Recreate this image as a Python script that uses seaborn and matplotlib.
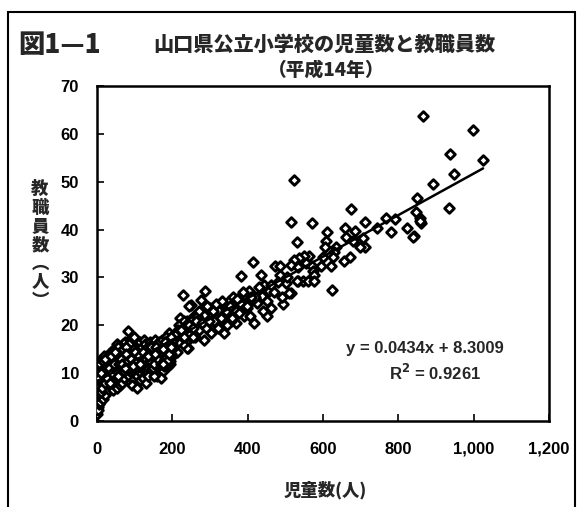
import matplotlib
matplotlib.use("Agg")
import matplotlib.pyplot as plt
import seaborn as sns
import pandas as pd
from matplotlib.patches import Rectangle

# 児童数 (students) and 教職員数 (staff) per school
students = [
    # upper range
    866, 999, 937, 948, 1025, 893, 850, 934, 846, 857, 861, 842,
    522, 675, 570, 712, 515, 659, 610, 684, 768, 790, 744, 781, 823, 840, 857,
    530, 608, 706, 712, 699, 679, 604, 635, 630, 626, 657, 673, 661, 599, 596, 620,
    563, 550, 537, 524, 515, 533, 555, 570, 573, 577, 533, 546, 559, 577, 623, 515,
    # middle range
    415, 383, 472, 486, 435, 486, 531, 229, 286, 275, 250, 335, 457, 495, 461, 426,
    413, 399, 380, 362, 346, 417, 390, 368, 339, 337, 303, 306, 283, 300, 319, 275,
    257, 239, 230, 235, 241, 444, 461, 501, 510, 439, 403,
    243, 82, 181, 146, 221, 217, 190, 239, 181, 146,
    260, 270, 290, 310, 325, 350, 355, 370, 395, 405, 420, 430, 450, 470, 480, 490,
    505, 450, 440, 320, 345, 360, 285, 265, 250, 225, 212, 205, 200,
    210, 215, 225, 230, 235, 228, 245, 250, 255,
    205, 215, 222, 232, 245, 255, 262, 272, 280, 292, 298, 308, 315, 328, 332, 342,
    352, 358, 372, 378, 388, 398, 408,
    # 0-15
    1, 2, 3, 2, 4, 3, 5, 6, 4, 7, 8, 5, 9, 6, 10, 8, 11, 12, 13, 7, 14, 10, 15, 12,
    3, 2, 1, 6, 9, 11,
    # 15-40
    16, 18, 20, 22, 24, 25, 26, 28, 30, 30, 32, 34, 35, 36, 38, 40, 17, 19, 21, 27,
    33, 37, 39, 23, 29,
    # 40-80
    42, 44, 45, 46, 48, 50, 50, 52, 54, 55, 56, 58, 60, 62, 63, 65, 66, 68, 70, 72,
    72, 74, 76, 78, 80, 43, 47, 53, 57, 61, 67, 71, 75, 79, 41,
    # 80-140
    82, 84, 85, 86, 88, 90, 90, 92, 94, 95, 96, 98, 100, 102, 104, 105, 107, 108,
    110, 112, 114, 115, 117, 118, 120, 122, 124, 125, 127, 128, 130, 132, 133, 135,
    137, 138, 140, 87, 93, 99, 106, 113, 121, 129, 136,
    # 140-200
    142, 144, 146, 148, 150, 152, 154, 155, 157, 158, 160, 162, 164, 165, 167, 168,
    170, 172, 174, 175, 177, 178, 180, 182, 184, 185, 187, 190, 192, 194, 196, 198,
    200, 203, 206, 160, 170, 188, 195, 150,
    # extra dense cluster
    5, 8, 12, 15, 18, 22, 26, 30, 34, 38, 42, 46, 50, 55, 60, 65, 70, 75, 80, 85,
    90, 95, 100, 105, 110, 115, 120, 125, 130, 135, 140, 145, 150, 155, 160, 165,
    170, 175, 180, 185, 190, 195,
    10, 14, 20, 24, 28, 33, 37, 44, 48, 52, 58, 64, 68, 74, 78, 83, 88, 94, 98, 103,
    108, 112, 118, 123, 127, 134, 139, 143, 148, 153, 158, 163, 168, 173, 178, 183,
    188, 193, 197,
    6, 11, 16, 21, 27, 31, 36, 41, 45, 49, 54, 59, 63, 67, 73, 77, 81, 86, 91, 97,
    101, 106, 111, 116, 121, 126, 131, 137, 141, 147, 152, 156, 162, 166, 171, 176,
    181, 186, 191, 196, 35, 55, 75, 95, 115, 135, 155, 175,
]
staff = [
    # upper range
    63.8, 60.8, 55.8, 51.7, 54.5, 49.5, 46.7, 44.6, 43.7, 42.5, 41.4, 38.6,
    50.4, 44.4, 41.4, 41.6, 41.5, 40.4, 39.5, 39.7, 42.5, 42.3, 40.4, 39.5, 40.4, 38.5, 41.8,
    37.4, 37.6, 38.3, 36.4, 36.4, 37.6, 36.4, 36.4, 35.3, 34.3, 33.4, 34.3, 38.5, 34.3, 32.3, 32.3,
    34.4, 34.4, 34.1, 33.7, 32.5, 32.2, 33.1, 32.3, 31.3, 30.6, 29.2, 29.2, 29.2, 29.2, 27.3, 26.8,
    # middle range
    33.3, 30.2, 32.3, 32.3, 30.5, 30.5, 29.3, 26.4, 27.1, 25.2, 24.3, 24.5, 27.1, 24.5, 23.6, 24.7,
    25.4, 23.6, 24.7, 23.4, 22.2, 20.5, 21.9, 20.5, 20.3, 18.4, 18.4, 20.8, 22.2, 23.6, 22.2, 20.8,
    21.9, 21.0, 19.4, 16.6, 15.2, 28.5, 28.5, 28.9, 26.8, 26.1, 27.1,
    24.1, 18.9, 11.2, 10.3, 21.5, 20.1, 18.4, 15.2, 11.0, 11.7,
    17.5, 19.0, 19.5, 21.0, 23.0, 25.0, 21.0, 23.0, 26.0, 22.0, 26.0, 28.0, 25.0, 27.0, 29.0, 26.0,
    30.0, 22.0, 23.0, 19.5, 20.0, 26.0, 17.0, 22.0, 19.0, 17.0, 14.5, 16.0, 13.5,
    17.0, 19.0, 18.5, 21.0, 20.0, 16.0, 18.0, 21.0, 17.5,
    18.0, 16.5, 19.0, 17.5, 20.0, 19.5, 21.0, 23.0, 20.5, 24.0, 21.0, 23.0, 24.5, 21.5, 25.0, 23.0,
    24.0, 21.5, 25.5, 22.5, 27.0, 24.0, 26.0,
    # 0-15
    1.5, 3.0, 2.2, 4.0, 5.0, 6.0, 4.5, 7.0, 8.0, 5.5, 6.5, 9.0, 8.0, 10.0, 7.5, 11.0, 9.5, 6.0, 10.5, 12.0, 8.5, 11.5, 12.0, 13.0,
    7.0, 9.0, 5.0, 3.5, 4.0, 5.0,
    # 15-40
    7.0, 9.0, 11.0, 6.0, 8.0, 10.0, 13.0, 7.5, 9.0, 12.0, 14.0, 8.0, 10.5, 12.5, 9.5, 11.0, 4.5, 13.5, 5.5, 11.5,
    6.5, 14.5, 13.0, 12.0, 10.0,
    # 40-80
    8.0, 10.0, 13.0, 15.0, 9.0, 11.0, 14.0, 12.0, 16.0, 8.5, 10.0, 13.0, 11.5, 15.0, 9.0, 12.5, 14.0, 10.0, 16.0, 11.0,
    13.5, 15.0, 9.5, 12.0, 14.0, 6.5, 11.5, 7.0, 15.5, 7.5, 8.0, 9.0, 16.5, 10.5, 14.0,
    # 80-140
    11.0, 13.0, 15.0, 9.5, 12.0, 14.0, 16.5, 10.0, 12.5, 15.0, 8.5, 13.5, 11.0, 16.0, 12.0, 14.5, 9.5, 13.0,
    15.5, 11.0, 16.5, 13.0, 10.0, 14.0, 12.0, 15.0, 17.0, 11.0, 13.5, 16.0, 10.0, 14.0, 12.5, 15.5,
    11.5, 13.0, 16.5, 17.0, 7.5, 17.5, 7.0, 8.5, 9.0, 8.0, 9.5,
    # 140-200
    12.0, 14.0, 16.0, 13.0, 15.0, 11.5, 17.0, 13.5, 10.5, 15.0, 12.0, 14.0, 16.5, 11.0, 13.0, 15.5,
    12.5, 17.0, 14.0, 10.5, 16.0, 13.0, 15.0, 12.0, 17.5, 14.0, 16.0, 13.0, 15.0, 17.0, 14.0, 16.0,
    15.0, 17.0, 18.0, 9.5, 9.0, 11.5, 12.0, 9.5,
    # extra dense cluster
    10.0, 12.0, 8.0, 10.5, 11.0, 9.5, 11.0, 13.0, 11.0, 12.5, 12.0, 10.5, 12.5, 13.5, 14.0, 11.0, 13.0, 13.5, 12.5, 16.0,
    11.5, 13.0, 14.5, 11.0, 13.5, 15.0, 11.0, 14.0, 15.0, 12.0, 13.0, 14.5, 12.5, 14.0, 16.0, 13.5,
    14.5, 13.0, 16.5, 15.5, 14.0, 16.0,
    6.0, 7.0, 8.0, 9.5, 12.0, 10.0, 11.0, 12.0, 13.0, 9.5, 11.0, 13.0, 15.0, 12.0, 15.5, 13.5, 10.5, 11.0, 15.0, 13.0,
    11.5, 14.0, 12.5, 13.0, 11.5, 12.5, 14.5, 15.5, 11.0, 14.0, 13.0, 12.5, 14.0, 15.0, 11.5, 13.5,
    15.0, 12.5, 17.5,
    9.0, 10.0, 12.5, 13.0, 9.0, 11.0, 13.5, 10.0, 12.0, 14.5, 10.5, 12.0, 13.0, 12.0, 10.5, 14.0, 12.5, 11.0, 13.0, 12.0,
    14.5, 12.5, 13.5, 11.5, 14.5, 12.5, 13.0, 14.0, 12.5, 13.5, 12.0, 15.5, 13.0, 14.5, 12.0, 15.0,
    13.0, 12.5, 14.0, 15.5, 8.0, 9.5, 11.0, 11.5, 12.0, 13.5, 14.0, 12.0,
]

slope = 0.0434
intercept = 8.3009
r_squared = 0.9261

xticks = [0, 200, 400, 600, 800, 1000, 1200]
xtick_labels = ["0", "200", "400", "600", "800", "1,000", "1,200"]
yticks = [0, 10, 20, 30, 40, 50, 60, 70]

sns.set_style("ticks")
plt.rcParams['font.family'] = ['Liberation Sans', 'Noto Sans CJK JP', 'DejaVu Sans']
plt.rcParams['font.weight'] = 'bold'

W, H = 579, 507
fig = plt.figure(figsize=(W / 100, H / 100), dpi=100)
fig.patch.set_facecolor('white')
ax = fig.add_axes([97 / W, (H - 421) / H, 452 / W, 335 / H])

df = pd.DataFrame({"students": students, "staff": staff})
sns.scatterplot(data=df, x="students", y="staff", marker="D", s=24,
                facecolor="white", edgecolor="black", linewidth=2.1, ax=ax,
                zorder=3)

xmin, xmax = min(students), max(students)
line_df = pd.DataFrame({"x": [xmin, xmax],
                        "y": [slope * xmin + intercept, slope * xmax + intercept]})
sns.lineplot(data=line_df, x="x", y="y", color="black", linewidth=1.8, ax=ax, zorder=4)

ax.set_xlim(0, 1200)
ax.set_ylim(0, 70)
ax.set_xticks(xticks)
ax.set_xticklabels(xtick_labels)
ax.set_yticks(yticks)
ax.set_xlabel("")
ax.set_ylabel("")
for s in ax.spines.values():
    s.set_visible(True)
    s.set_linewidth(1.8)
    s.set_color("black")
ax.tick_params(axis="both", direction="in", length=5, width=1.2, colors="black",
               labelsize=12)
ax.tick_params(axis="x", pad=15)
ax.tick_params(axis="y", pad=13)
for lab in ax.get_xticklabels() + ax.get_yticklabels():
    lab.set_fontweight("bold")

jp = ['Noto Sans CJK JP', 'DejaVu Sans']
fig.text(18 / W, 1 - 45 / H, "図1—1", family=jp, fontsize=19, fontweight="heavy",
         ha="left", va="center")
fig.text(324 / W, 1 - 45 / H, "山口県公立小学校の児童数と教職員数", family=jp,
         fontsize=14.5, fontweight="heavy", ha="center", va="center")
fig.text(326 / W, 1 - 70 / H, "（平成14年）", family=jp,
         fontsize=13.5, fontweight="heavy", ha="center", va="center")
fig.text(40 / W, 1 - 245 / H, "教\n職\n員\n数\n︵\n人\n︶", family=jp,
         fontsize=12.5, fontweight="heavy", ha="center", va="center", linespacing=1.05)
fig.text(325 / W, 1 - 490 / H, "児童数(人)", family=jp,
         fontsize=12.5, fontweight="heavy", ha="center", va="center")
fig.text(425 / W, 1 - 348 / H, f"y = {slope}x + {intercept}", fontsize=12,
         fontweight="bold", ha="center", va="center")
fig.text(435 / W, 1 - 373 / H, f"R$^\\mathbf{{2}}$ = {r_squared}", fontsize=12,
         fontweight="bold", ha="center", va="center")

fig.add_artist(Rectangle((8 / W, -0.05), (575 - 8) / W, 1 - 12 / H + 0.05,
                         transform=fig.transFigure, fill=False,
                         edgecolor="black", linewidth=1.5, clip_on=False))

fig.savefig("out.png", dpi=100, facecolor="white")
